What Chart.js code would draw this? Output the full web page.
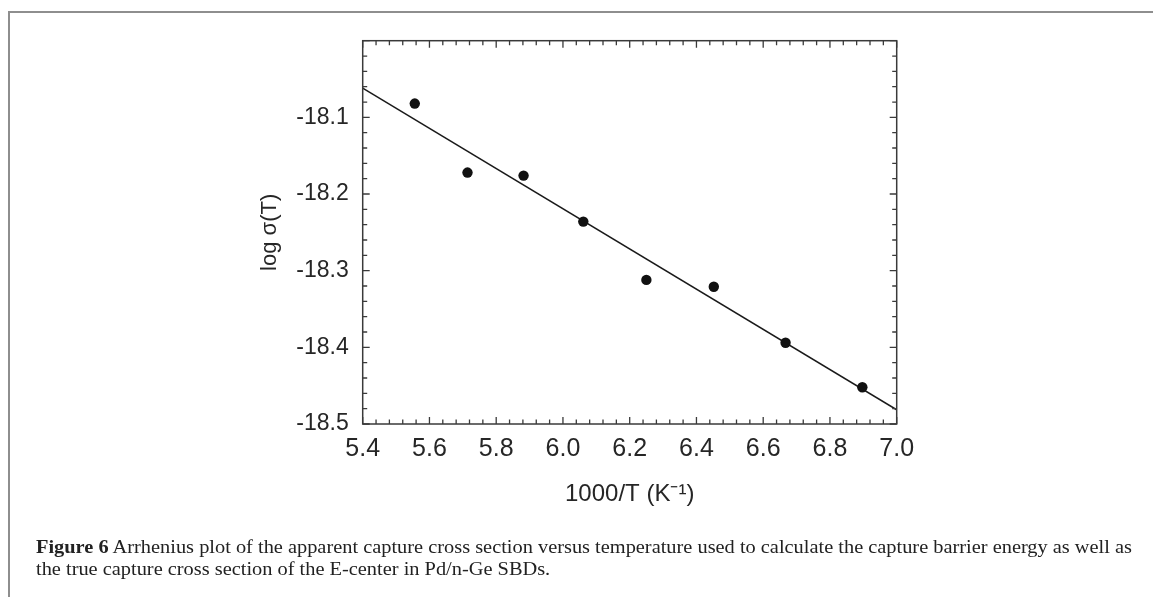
<!DOCTYPE html>
<html>
<head>
<meta charset="utf-8">
<script src="https://cdn.jsdelivr.net/npm/chart.js@4"></script>
<style>
  html, body { margin: 0; padding: 0; background: #fff; }
  #wrap { position: relative; width: 1153px; height: 597px; overflow: hidden; }
  #frameTop { position: absolute; left: 9px; top: 11px; width: 1144px; height: 2px; background: #8e8e8e; }
  #frameLeft { position: absolute; left: 8px; top: 11px; width: 2px; height: 586px; background: #8e8e8e; }
  #cv { position: absolute; left: 0; top: 0; }
  #caption { position: absolute; left: 36px; top: 536px; font-family: "Liberation Serif", "DejaVu Serif", serif; font-size: 19px; color: #222; white-space: nowrap; line-height: 22px; }
  #caption span { display: inline-block; transform-origin: 0 50%; }
</style>
</head>
<body>
<div id="wrap">
  <div id="frameTop"></div>
  <div id="frameLeft"></div>
  <canvas id="cv" width="1153" height="597"></canvas>
  <div id="caption"><span id="l1"><b>Figure 6</b> Arrhenius plot of the apparent capture cross section versus temperature used to calculate the capture barrier energy as well as</span><br><span id="l2">the true capture cross section of the E-center in Pd/n-Ge SBDs.</span></div>
</div>
<script>
// ---- data ----
const invT      = [5.556, 5.714, 5.882, 6.061, 6.250, 6.452, 6.667, 6.897];
const logSigma  = [-18.082, -18.172, -18.176, -18.236, -18.312, -18.321, -18.394, -18.452];
const fitX      = [5.4, 7.0];
const fitY      = [-18.062, -18.4815];
const xTickValues = [5.4, 5.6, 5.8, 6.0, 6.2, 6.4, 6.6, 6.8, 7.0];
const xTickLabels = ['5.4', '5.6', '5.8', '6.0', '6.2', '6.4', '6.6', '6.8', '7.0'];
const yTickValues = [-18.5, -18.4, -18.3, -18.2, -18.1, -18.0];
const yTickLabels = ['-18.5', '-18.4', '-18.3', '-18.2', '-18.1', ''];
const xTitle = '1000/T (K\u207B\u00B9)';
const yTitle = 'log \u03C3(T)';

// ---- caption: stretch to the reference's line width ----
function fitCaption() {
  const l1 = document.getElementById('l1');
  const l2 = document.getElementById('l2');
  l1.style.transform = l2.style.transform = 'none';
  const w = l1.getBoundingClientRect().width;
  if (w > 0) {
    const k = 1096 / w;
    l1.style.transform = 'scaleX(' + k + ')';
    l2.style.transform = 'scaleX(' + k + ')';
  }
}
fitCaption();
if (document.fonts && document.fonts.ready) document.fonts.ready.then(fitCaption);

const axisColor = '#3a3a3a';
const textColor = '#262626';

const frameTicks = {
  id: 'frameTicks',
  afterDraw(chart) {
    const { ctx, chartArea: a, scales: { x, y } } = chart;
    ctx.save();
    ctx.strokeStyle = axisColor;
    ctx.lineWidth = 1.5;
    ctx.strokeRect(a.left, a.top, a.right - a.left, a.bottom - a.top);
    ctx.lineWidth = 1.3;
    const minorN = 5;
    ctx.beginPath();
    for (let i = 0; i < xTickValues.length; i++) {
      const v0 = xTickValues[i];
      const v1 = i + 1 < xTickValues.length ? xTickValues[i + 1] : null;
      const subs = [[v0, 7]];
      if (v1 !== null) for (let k = 1; k < minorN; k++) subs.push([v0 + (v1 - v0) * k / minorN, 4.5]);
      for (const [v, L] of subs) {
        const px = x.getPixelForValue(v);
        ctx.moveTo(px, a.bottom); ctx.lineTo(px, a.bottom - L);
        ctx.moveTo(px, a.top); ctx.lineTo(px, a.top + L);
      }
    }
    for (let i = 0; i < yTickValues.length; i++) {
      const v0 = yTickValues[i];
      const v1 = i + 1 < yTickValues.length ? yTickValues[i + 1] : null;
      const subs = [[v0, 7]];
      if (v1 !== null) for (let k = 1; k < minorN; k++) subs.push([v0 + (v1 - v0) * k / minorN, 4.5]);
      for (const [v, L] of subs) {
        const py = y.getPixelForValue(v);
        ctx.moveTo(a.left, py); ctx.lineTo(a.left + L, py);
        ctx.moveTo(a.right, py); ctx.lineTo(a.right - L, py);
      }
    }
    ctx.stroke();
    ctx.restore();
  }
};

new Chart(document.getElementById('cv'), {
  type: 'scatter',
  data: {
    datasets: [
      {
        label: 'data',
        data: invT.map((v, i) => ({ x: v, y: logSigma[i] })),
        pointRadius: 5.2,
        pointBackgroundColor: '#111',
        pointBorderColor: '#111',
        pointBorderWidth: 0,
        showLine: false
      },
      {
        label: 'fit',
        data: fitX.map((v, i) => ({ x: v, y: fitY[i] })),
        showLine: true,
        borderColor: '#1a1a1a',
        borderWidth: 1.5,
        pointRadius: 0
      }
    ]
  },
  options: {
    responsive: false,
    animation: false,
    events: [],
    layout: { padding: { left: 254.7, right: 256.3, top: 40.7, bottom: 88.6 } },
    plugins: { legend: { display: false }, tooltip: { enabled: false } },
    scales: {
      x: {
        type: 'linear',
        min: 5.4, max: 7.0,
        afterBuildTicks: s => { s.ticks = xTickValues.map(v => ({ value: v })); },
        afterFit: s => { s.height = 84.4; },
        grid: { display: false, drawTicks: false },
        border: { display: false },
        ticks: {
          padding: 10,
          color: textColor,
          font: { family: '"Liberation Sans", Arial, sans-serif', size: 25 },
          callback: (v, i) => xTickLabels[i]
        },
        title: {
          display: true, text: xTitle, color: textColor,
          font: { family: '"Liberation Sans", Arial, sans-serif', size: 24 },
          padding: { top: 0, bottom: 0 }
        }
      },
      y: {
        type: 'linear',
        min: -18.5, max: -18.0,
        afterBuildTicks: s => { s.ticks = yTickValues.map(v => ({ value: v })); },
        afterFit: s => { s.width = 108; },
        grid: { display: false, drawTicks: false },
        border: { display: false },
        ticks: {
          padding: 14,
          color: textColor,
          font: { family: '"Liberation Sans", Arial, sans-serif', size: 23 },
          callback: (v, i) => yTickLabels[i]
        },
        title: {
          display: true, text: yTitle, color: textColor,
          font: { family: '"Liberation Sans", Arial, sans-serif', size: 22 },
          padding: { top: 2, bottom: 0 }
        }
      }
    }
  },
  plugins: [frameTicks]
});
</script>
</body>
</html>
